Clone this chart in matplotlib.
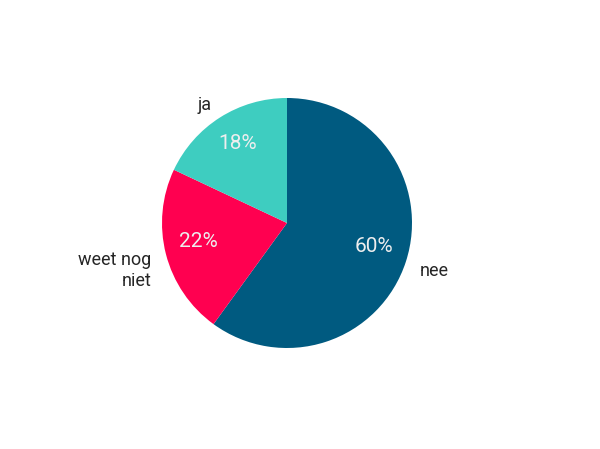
import matplotlib.pyplot as plt

labels = ["nee", "weet nog\nniet", "ja"]
values = [60, 22, 18]
colors = ["#005a80", "#ff0050", "#3ecdc0"]

plt.rcParams["font.family"] = ["Roboto", "DejaVu Sans"]

fig = plt.figure(figsize=(6, 4.49), dpi=100)
ax = fig.add_axes([162 / 600, 101 / 449, 250 / 600, 250 / 449])

wedges, texts, autotexts = ax.pie(
    values, labels=labels, colors=colors, startangle=90, counterclock=False,
    autopct="%d%%", pctdistance=0.73, labeldistance=1.12, radius=1.0,
    wedgeprops=dict(linewidth=0),
    textprops=dict(fontsize=13, color="#262626"),
)
# small nudges to match the label placement of the original
label_dy = [-0.04, -0.1, 0.0]
pct_dy = [0.04, 0.03, 0.02]
for t, dy in zip(texts, label_dy):
    t.set_multialignment(t.get_ha())
    x, y = t.get_position()
    t.set_position((x, y + dy))
for t, dy in zip(autotexts, pct_dy):
    t.set_color("#eeeeee")
    t.set_fontsize(15)
    x, y = t.get_position()
    t.set_position((x, y + dy))
ax.set_xlim(-1, 1)
ax.set_ylim(-1, 1)
ax.set_aspect("equal")

fig.savefig("out.png", dpi=100)
